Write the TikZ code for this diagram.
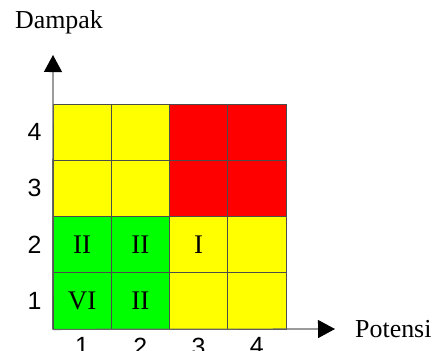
\documentclass[tikz,border=0pt]{standalone}
\usepackage{fontspec}
\setmainfont{Liberation Serif}
\newfontfamily\digitfont{Liberation Sans}
\usetikzlibrary{arrows.meta, positioning}

\definecolor{riskgreen}{RGB}{0,255,0}
\definecolor{riskyellow}{RGB}{255,255,0}
\definecolor{riskred}{RGB}{255,0,0}

\begin{document}
\begin{tikzpicture}[x=1bp, y=-1bp,
  cell/.style={rectangle, draw=black!70, line width=0.8bp, minimum width=58.25bp, minimum height=56.25bp, inner sep=0pt, font=\fontsize{27}{30}\selectfont},
  tick/.style={font=\digitfont\fontsize{25}{28}\selectfont, inner sep=0pt},
  axislabel/.style={font=\fontsize{26}{30}\selectfont, inner sep=0pt},
  axis/.style={draw=black!60, line width=1.2bp, -{Triangle[length=17bp, width=18bp, black]}}
]
\useasboundingbox (0,0) rectangle (433,350);

% risk matrix: column/row/colour/level
\foreach \c/\r/\col/\txt in {1/1/riskgreen/VI, 2/1/riskgreen/II, 3/1/riskyellow/{}, 4/1/riskyellow/{},
                             1/2/riskgreen/II, 2/2/riskgreen/II, 3/2/riskyellow/I, 4/2/riskyellow/{},
                             1/3/riskyellow/{}, 2/3/riskyellow/{}, 3/3/riskred/{}, 4/3/riskred/{},
                             1/4/riskyellow/{}, 2/4/riskyellow/{}, 3/4/riskred/{}, 4/4/riskred/{}}
  \node[cell, fill=\col] (c\c\r) at ({53+(\c-0.5)*58.25}, {329-(\r-0.5)*56.25}) {\txt};

% axes
\coordinate (ytip) at (53,55);
\coordinate (xtip) at (335,329);
\draw[axis] (c11.south west) -- (ytip);
\draw[axis] (c11.south west) -- (xtip);

\foreach \i in {1,...,4} {
  \node[tick, left=11bp of c1\i] (ry\i) {\i};
  \node[tick, below=8bp of c\i1] (cx\i) {\i};
}

\node[axislabel, above=21bp of ytip, xshift=6bp] (dampak) {Dampak};
\node[axislabel, right=20bp of xtip] (potensi) {Potensi};

\end{tikzpicture}
\end{document}
